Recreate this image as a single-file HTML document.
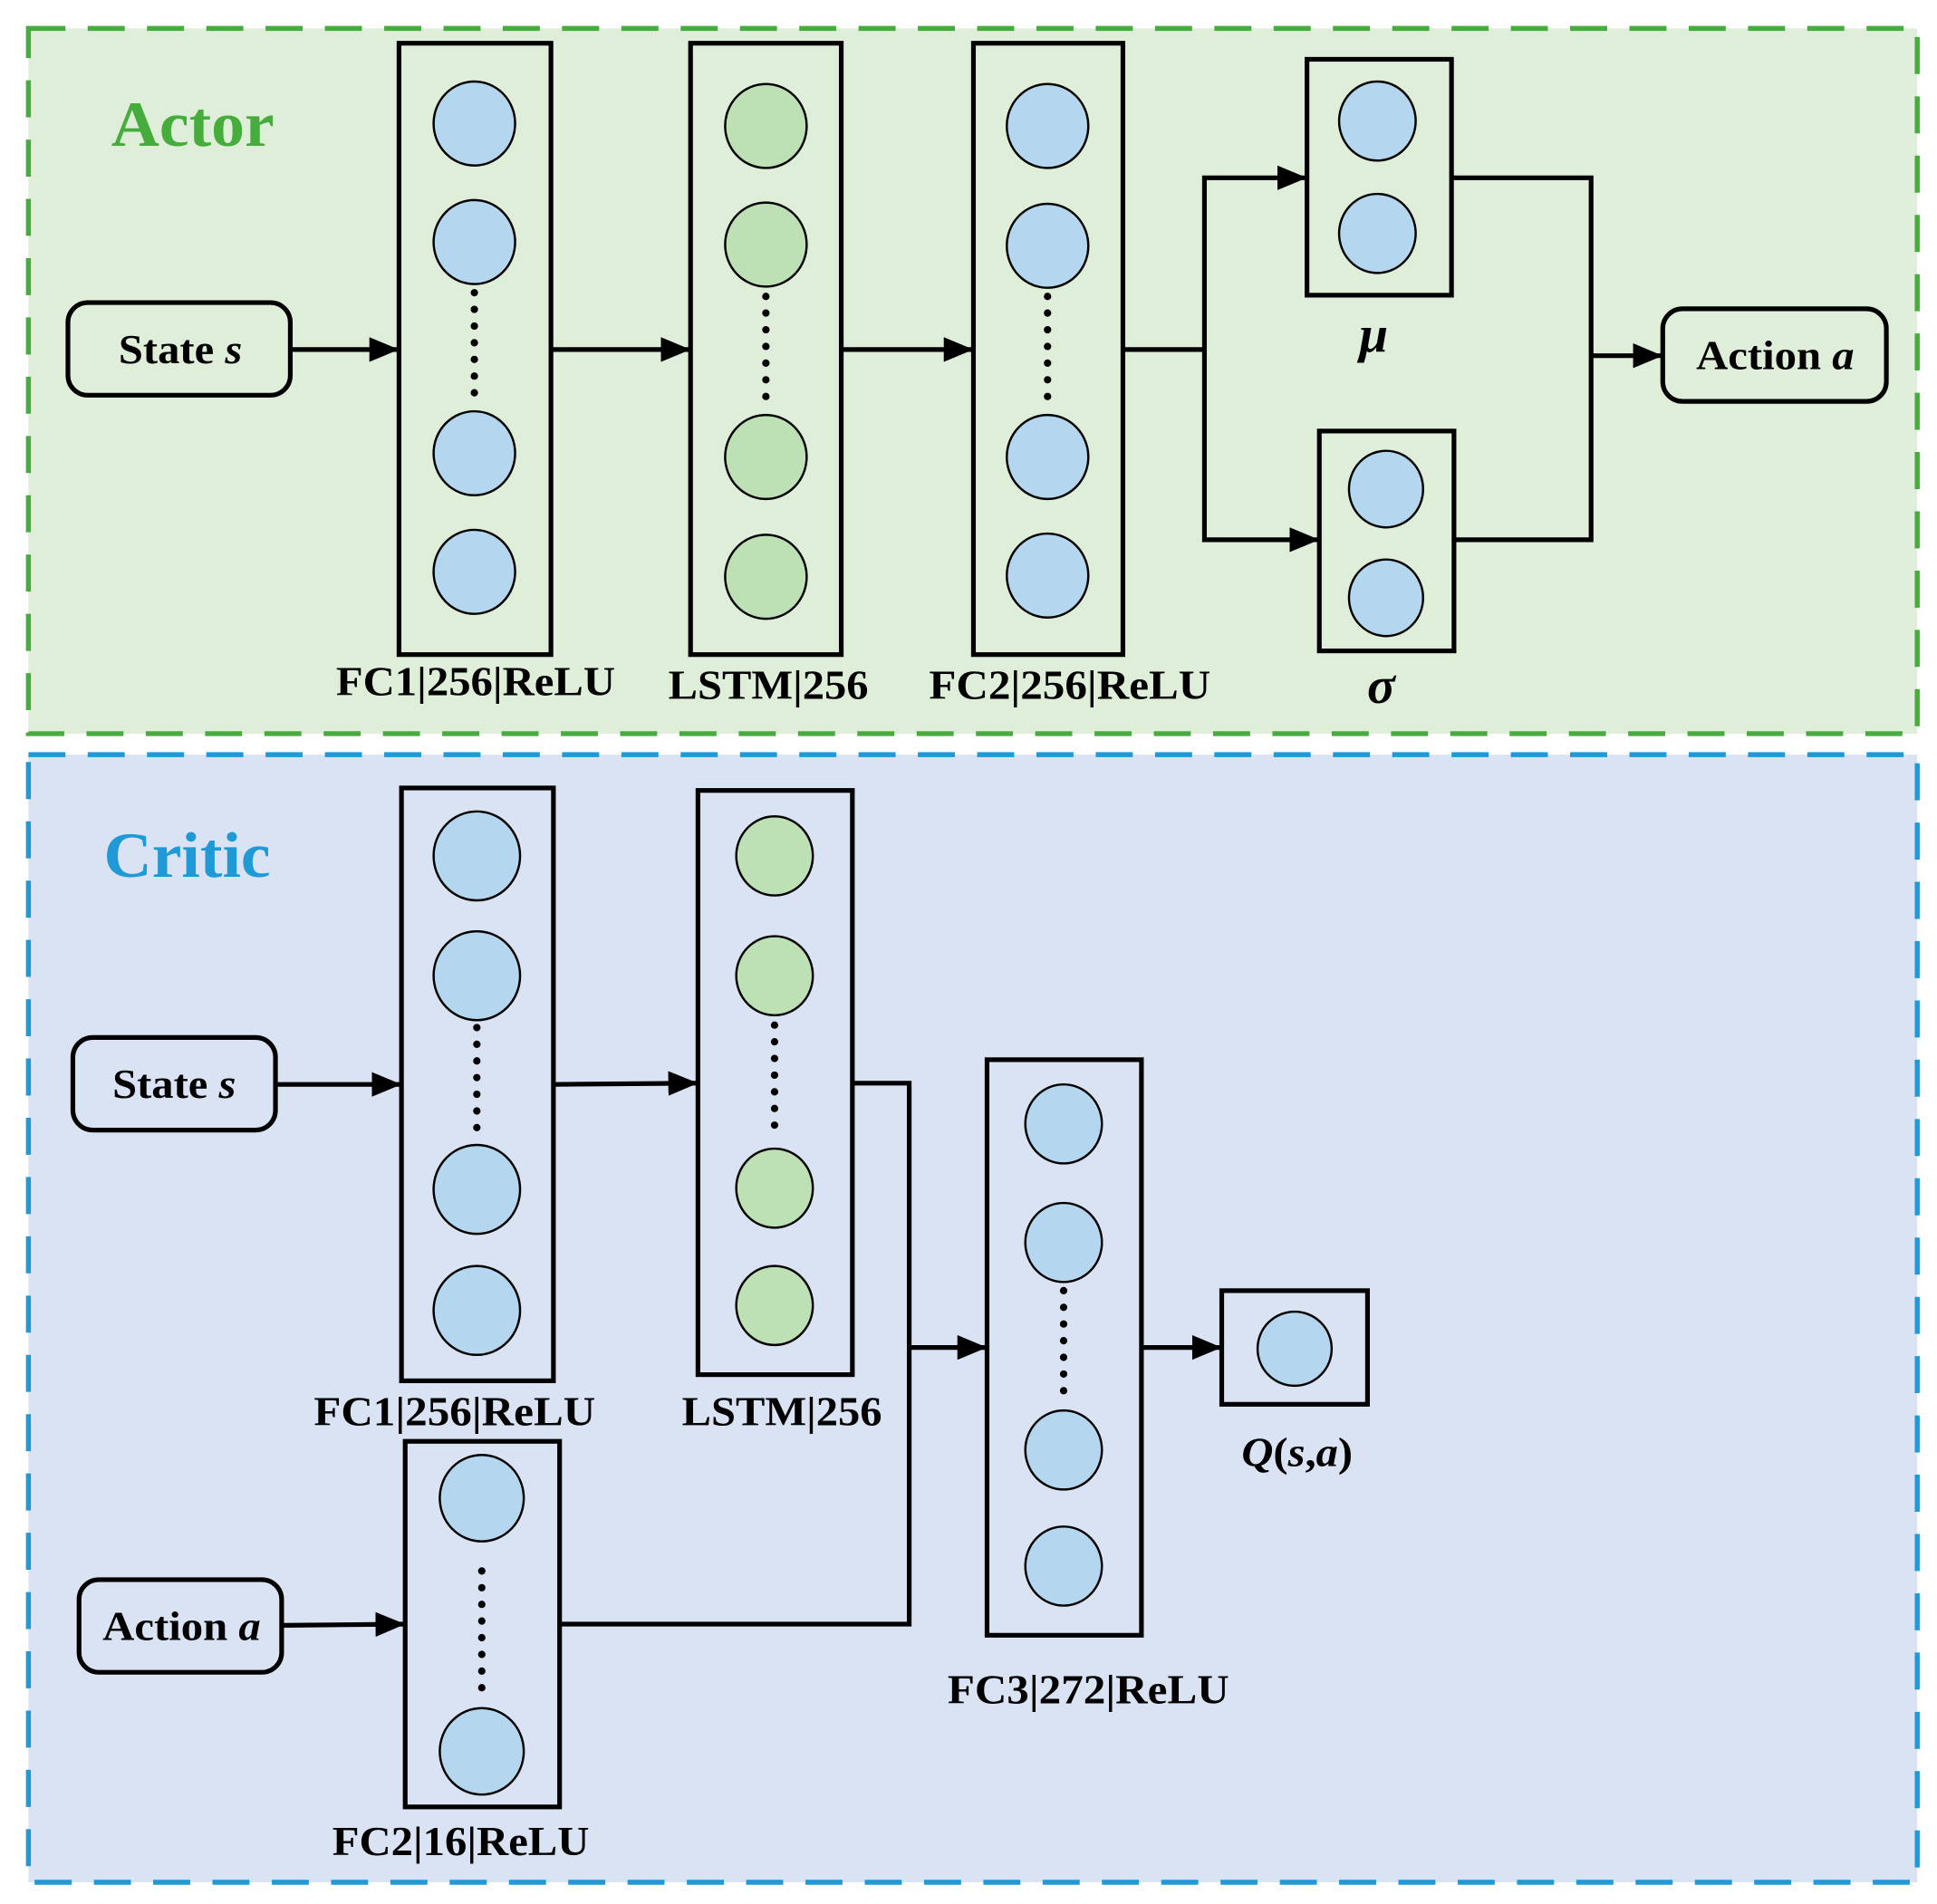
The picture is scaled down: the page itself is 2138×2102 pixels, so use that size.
<!DOCTYPE html>
<html><head><meta charset="utf-8"><style>html,body{margin:0;padding:0;background:#fff}svg{display:block}text{font-family:"Liberation Serif",serif;font-weight:bold;fill:#000}</style></head><body>
<svg width="2138" height="2102" viewBox="0 0 1568 1541.6" xmlns="http://www.w3.org/2000/svg">
<defs><marker id="a" viewBox="0 0 10 10" refX="10" refY="5" markerWidth="24" markerHeight="20" markerUnits="userSpaceOnUse" orient="auto" preserveAspectRatio="none"><path d="M0,0L10,5L0,10z" fill="#000"/></marker></defs>
<rect x="23" y="23" width="1529" height="571" fill="#deeed9" stroke="#46ad3c" stroke-width="4" stroke-dasharray="30,18"/>
<rect x="23" y="611" width="1529" height="913" fill="#dae3f3" stroke="#1f9ad6" stroke-width="4" stroke-dasharray="30,18"/>
<text x="90" y="118" font-size="52" textLength="132" lengthAdjust="spacingAndGlyphs" style="fill:#46ad3c">Actor</text>
<text x="84" y="710" font-size="52" textLength="135" lengthAdjust="spacingAndGlyphs" style="fill:#1f9ad6">Critic</text>
<g stroke="#000" stroke-width="3.8" fill="none">
<rect x="55" y="245" width="180" height="75" rx="16"/>
<rect x="323" y="35" width="123" height="495"/>
<rect x="559" y="35" width="122" height="495"/>
<rect x="788" y="35" width="121" height="495"/>
<rect x="1058" y="48" width="117" height="191"/>
<rect x="1068" y="349" width="109" height="178"/>
<rect x="1346" y="250" width="181" height="75" rx="16"/>
<line x1="235" y1="283" x2="323" y2="283" marker-end="url(#a)"/>
<line x1="446" y1="283" x2="559" y2="283" marker-end="url(#a)"/>
<line x1="681" y1="283" x2="788" y2="283" marker-end="url(#a)"/>
<polyline points="909,283 975,283"/>
<polyline points="975,283 975,144 1058,144" marker-end="url(#a)"/>
<polyline points="975,283 975,437 1068,437" marker-end="url(#a)"/>
<polyline points="1175,144 1288,144 1288,437 1177,437"/>
<line x1="1288" y1="288" x2="1346" y2="288" marker-end="url(#a)"/>
<rect x="59" y="840" width="164" height="75" rx="16"/>
<rect x="325" y="638" width="123" height="480"/>
<rect x="565" y="640" width="125" height="473"/>
<rect x="328" y="1167" width="125" height="296"/>
<rect x="64" y="1279" width="164" height="75" rx="16"/>
<rect x="799" y="858" width="125" height="466"/>
<rect x="989" y="1045" width="118" height="92"/>
<line x1="223" y1="878" x2="325" y2="878" marker-end="url(#a)"/>
<line x1="448" y1="878" x2="565" y2="877" marker-end="url(#a)"/>
<polyline points="690,877 736,877 736,1315 453,1315"/>
<line x1="736" y1="1091" x2="799" y2="1091" marker-end="url(#a)"/>
<line x1="228" y1="1316" x2="328" y2="1315" marker-end="url(#a)"/>
<line x1="924" y1="1091" x2="989" y2="1091" marker-end="url(#a)"/>
</g>
<g stroke="#000" stroke-width="1.8">
<g fill="#b4d6ef">
<ellipse cx="384" cy="100" rx="33" ry="34"/><ellipse cx="384" cy="196" rx="33" ry="34"/><ellipse cx="384" cy="367" rx="33" ry="34"/><ellipse cx="384" cy="463" rx="33" ry="34"/>
<ellipse cx="848" cy="102" rx="33" ry="34"/><ellipse cx="848" cy="199" rx="33" ry="34"/><ellipse cx="848" cy="370" rx="33" ry="34"/><ellipse cx="848" cy="466" rx="33" ry="34"/>
<ellipse cx="1115" cy="98" rx="31" ry="32"/><ellipse cx="1115" cy="189" rx="31" ry="32"/>
<ellipse cx="1122" cy="396" rx="30" ry="31"/><ellipse cx="1122" cy="484" rx="30" ry="31"/>
<ellipse cx="386" cy="693" rx="35" ry="36"/><ellipse cx="386" cy="790" rx="35" ry="36"/><ellipse cx="386" cy="963" rx="35" ry="36"/><ellipse cx="386" cy="1061" rx="35" ry="36"/>
<ellipse cx="390" cy="1213" rx="34" ry="35"/><ellipse cx="390" cy="1418" rx="34" ry="35"/>
<ellipse cx="861" cy="910" rx="31" ry="32"/><ellipse cx="861" cy="1006" rx="31" ry="32"/><ellipse cx="861" cy="1174" rx="31" ry="32"/><ellipse cx="861" cy="1268" rx="31" ry="32"/>
<ellipse cx="1048" cy="1092" rx="30" ry="30"/>
</g>
<g fill="#bde1b4">
<ellipse cx="620" cy="102" rx="33" ry="34"/><ellipse cx="620" cy="198" rx="33" ry="34"/><ellipse cx="620" cy="370" rx="33" ry="34"/><ellipse cx="620" cy="467" rx="33" ry="34"/>
<ellipse cx="627" cy="693" rx="31" ry="32"/><ellipse cx="627" cy="790" rx="31" ry="32"/><ellipse cx="627" cy="962" rx="31" ry="32"/><ellipse cx="627" cy="1057" rx="31" ry="32"/>
</g>
</g>
<g stroke="#000" stroke-width="6" stroke-linecap="round" stroke-dasharray="0,13.5" fill="none">
<line x1="384" y1="237" x2="384" y2="330"/>
<line x1="620" y1="240" x2="620" y2="330"/>
<line x1="848" y1="240" x2="848" y2="330"/>
<line x1="386" y1="832" x2="386" y2="922"/>
<line x1="627" y1="830" x2="627" y2="922"/>
<line x1="390" y1="1272" x2="390" y2="1376"/>
<line x1="861" y1="1045" x2="861" y2="1135"/>
</g>
<g font-size="33" text-anchor="middle" lengthAdjust="spacingAndGlyphs">
<text x="146" y="294" textLength="100" lengthAdjust="spacingAndGlyphs">State <tspan font-style="italic">s</tspan></text>
<text x="1437" y="299" textLength="128" lengthAdjust="spacingAndGlyphs">Action <tspan font-style="italic">a</tspan></text>
<text x="385" y="563" textLength="226" lengthAdjust="spacingAndGlyphs">FC1|256|ReLU</text>
<text x="622" y="566" textLength="162" lengthAdjust="spacingAndGlyphs">LSTM|256</text>
<text x="866" y="566" textLength="228" lengthAdjust="spacingAndGlyphs">FC2|256|ReLU</text>
<text x="1112" y="285" font-size="42" font-style="italic">μ</text>
<text x="1118" y="569" font-size="42" font-style="italic">σ</text>
<text x="141" y="889" textLength="100" lengthAdjust="spacingAndGlyphs">State <tspan font-style="italic">s</tspan></text>
<text x="147" y="1328" textLength="128" lengthAdjust="spacingAndGlyphs">Action <tspan font-style="italic">a</tspan></text>
<text x="368" y="1154" textLength="228" lengthAdjust="spacingAndGlyphs">FC1|256|ReLU</text>
<text x="633" y="1154" textLength="162" lengthAdjust="spacingAndGlyphs">LSTM|256</text>
<text x="373" y="1502" textLength="208" lengthAdjust="spacingAndGlyphs">FC2|16|ReLU</text>
<text x="881" y="1379" textLength="228" lengthAdjust="spacingAndGlyphs">FC3|272|ReLU</text>
<text x="1050" y="1187" textLength="90" lengthAdjust="spacingAndGlyphs"><tspan font-style="italic">Q</tspan>(<tspan font-style="italic">s</tspan>,<tspan font-style="italic">a</tspan>)</text>
</g>
</svg>
</body></html>
